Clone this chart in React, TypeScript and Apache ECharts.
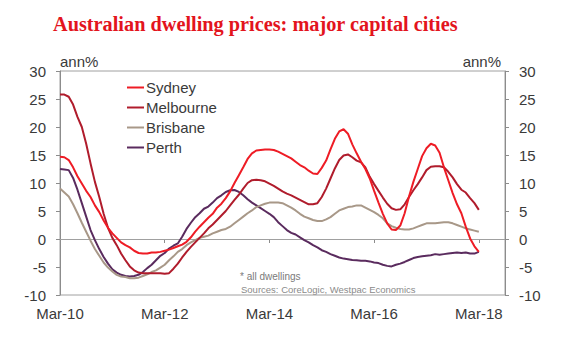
import React, { useEffect, useRef } from "react";
import * as echarts from "echarts";

const monthNames = ["Jan", "Feb", "Mar", "Apr", "May", "Jun", "Jul", "Aug", "Sep", "Oct", "Nov", "Dec"];
// Monthly categories Mar-10 .. Sep-18 (axis runs 6 months past the last observation)
const months: string[] = [];
for (let i = 0; i < 103; i++) {
  const mi = (2 + i) % 12;
  const yr = 10 + Math.floor((2 + i) / 12);
  months.push(`${monthNames[mi]}-${yr}`);
}

const sydney = [
  14.7, 14.6, 14.1, 12.8, 11.2, 9.9, 8.6, 7.5, 6.0, 4.8, 3.3, 2.0,
  1.0, 0.2, -0.6, -1.1, -1.5, -2.1, -2.5, -2.6, -2.6, -2.4, -2.4, -2.3,
  -2.1, -1.9, -1.6, -1.3, -1.0, -0.5, 0.3, 1.3, 2.2, 3.0, 3.8, 4.5,
  5.6, 6.3, 7.3, 8.5, 10.0, 11.4, 12.8, 14.3, 15.3, 15.8, 15.9, 16.0,
  16.0, 15.9, 15.6, 15.2, 14.8, 14.4, 13.8, 13.2, 12.8, 12.2, 11.7, 11.6,
  12.7, 14.0, 16.0, 17.9, 19.2, 19.6, 18.8, 16.9, 15.3, 13.8, 12.5, 10.8,
  8.6, 6.5, 4.5, 2.8, 1.7, 1.6, 2.4, 4.6, 7.6, 10.2, 12.5, 14.8,
  16.2, 17.0, 16.7, 15.4, 12.8, 10.5, 8.2, 6.2, 4.6, 2.2, 0.1, -1.3,
  -2.3,
];

const melbourne = [
  25.8, 25.8, 25.4, 24.0, 21.8, 20.0, 17.0, 13.5, 10.2, 7.5, 4.5, 2.0,
  0.2, -1.1, -2.6, -3.8, -4.9, -5.6, -6.0, -6.1, -6.1, -6.1, -6.1, -6.1,
  -6.2, -6.1, -5.3, -4.4, -3.3, -2.3, -1.4, -0.6, 0.2, 1.0, 1.9, 2.6,
  3.4, 4.2, 5.0, 6.0, 7.0, 7.9, 9.0, 10.0, 10.5, 10.6, 10.5, 10.3,
  9.9, 9.5, 9.0, 8.5, 8.1, 7.8, 7.4, 7.0, 6.6, 6.2, 6.2, 6.4,
  7.5, 9.0, 10.8, 12.6, 14.1, 14.9, 15.1, 14.6, 14.0, 13.7, 12.8, 11.1,
  9.8, 8.6, 7.4, 6.3, 5.5, 5.2, 5.3, 6.2, 7.5, 8.7, 9.8, 11.0,
  12.3, 12.9, 13.0, 13.0, 12.8, 12.0, 11.0, 9.8, 8.8, 8.3, 7.3, 6.4,
  5.2,
];

const brisbane = [
  9.0, 8.3, 7.6, 6.2, 4.6, 2.9, 1.3, -0.3, -1.8, -3.0, -4.2, -5.1,
  -5.8, -6.4, -6.7, -6.8, -7.0, -7.0, -6.9, -6.6, -6.3, -5.9, -5.6, -5.1,
  -4.6, -3.8, -3.1, -2.3, -1.8, -1.1, -0.6, -0.2, 0.2, 0.4, 0.6, 1.0,
  1.3, 1.6, 1.8, 2.2, 2.8, 3.4, 4.0, 4.6, 5.1, 5.7, 6.0, 6.3,
  6.5, 6.5, 6.5, 6.4, 6.0, 5.6, 5.1, 4.5, 4.0, 3.7, 3.4, 3.2,
  3.2, 3.5, 3.9, 4.5, 5.1, 5.4, 5.7, 5.8, 6.0, 6.0, 5.6, 5.2,
  4.8, 4.3, 3.7, 2.8, 2.3, 2.0, 1.8, 1.7, 1.7, 1.9, 2.2, 2.5,
  2.8, 2.8, 2.8, 2.9, 3.0, 3.0, 2.8, 2.5, 2.2, 1.9, 1.7, 1.5,
  1.3,
];

const perth = [
  12.5, 12.4, 12.3, 10.9, 8.8, 6.4, 4.0, 1.6, -0.2, -1.8, -3.2, -4.4,
  -5.4, -6.0, -6.4, -6.6, -6.7, -6.6, -6.4, -5.9, -5.2, -4.6, -3.8, -3.0,
  -2.5, -1.7, -1.2, -0.8, 0.4, 1.8, 2.9, 3.9, 4.6, 5.4, 5.8, 6.5,
  7.3, 7.8, 8.4, 8.7, 8.75, 8.4, 7.8, 7.1, 6.5, 6.0, 5.5, 5.0,
  4.5, 3.9, 3.0, 2.3, 1.6, 1.1, 0.8, 0.3, -0.2, -0.6, -1.1, -1.5,
  -2.0, -2.3, -2.7, -3.0, -3.3, -3.5, -3.6, -3.75, -3.8, -3.9, -3.9, -4.0,
  -4.2, -4.3, -4.6, -4.8, -4.9, -4.6, -4.4, -4.1, -3.75, -3.4, -3.2, -3.1,
  -3.0, -2.9, -2.7, -2.8, -2.7, -2.6, -2.5, -2.4, -2.5, -2.4, -2.6, -2.6,
  -2.3,
];

const seriesNames = ["Sydney", "Melbourne", "Brisbane", "Perth"];
const seriesColors = ["#ee1c25", "#b01c2c", "#a89888", "#5a2b5e"];
const yTicks = { min: -10, max: 30, interval: 5 };

const TEXT = "#3a3a3a";
const AXIS = "#8c8c8c";
const FONT = "'Liberation Sans', Arial, sans-serif";

export default function App() {
  const ref = useRef<HTMLDivElement>(null);
  useEffect(() => {
    if (!ref.current) return;
    const chart = echarts.init(ref.current, undefined, { renderer: "svg" });
    const dataSets = [sydney, melbourne, brisbane, perth];
    const isTick = (i: number) => i % 24 === 0;
    const yAxisBase = {
      type: "value",
      min: yTicks.min,
      max: yTicks.max,
      interval: yTicks.interval,
      splitLine: { show: false },
      axisLine: { show: true, lineStyle: { color: AXIS, width: 1 } },
      axisTick: { show: true, length: 4, lineStyle: { color: AXIS } },
      axisLabel: { color: TEXT, fontSize: 15, fontFamily: FONT, margin: 14 },
      name: "ann%",
      nameLocation: "end",
      nameGap: 2,
    };
    chart.setOption({
      animation: false,
      title: {
        text: "Australian dwelling prices: major capital cities",
        left: 48,
        top: 9,
        textStyle: {
          color: "#e3141d",
          fontSize: 20.3,
          fontWeight: "bold",
          fontFamily: "'Liberation Serif', 'Times New Roman', serif",
        },
      },
      grid: {
        left: 60,
        right: 75,
        top: 71,
        bottom: 57,
        show: true,
        borderColor: "#a0a0a0",
        borderWidth: 1,
        backgroundColor: "transparent",
      },
      legend: {
        orient: "vertical",
        left: 127,
        top: 80,
        padding: 0,
        itemWidth: 17,
        itemHeight: 2,
        itemGap: 5,
        icon: "rect",
        data: seriesNames,
        textStyle: { color: TEXT, fontSize: 15, fontFamily: FONT, padding: [0, 0, 0, -3] },
      },
      xAxis: {
        type: "category",
        data: months,
        boundaryGap: false,
        axisLine: { show: true, lineStyle: { color: AXIS, width: 1 } },
        axisTick: { show: true, length: 4, interval: (i: number) => isTick(i), lineStyle: { color: AXIS } },
        axisLabel: {
          color: TEXT,
          fontSize: 15,
          fontFamily: FONT,
          margin: 11,
          interval: (i: number) => isTick(i),
        },
        splitLine: { show: false },
      },
      yAxis: [
        {
          ...yAxisBase,
          position: "left",
          nameTextStyle: { color: TEXT, fontSize: 15, fontFamily: FONT, align: "left" },
        },
        {
          ...yAxisBase,
          position: "right",
          nameTextStyle: { color: TEXT, fontSize: 15, fontFamily: FONT, align: "right", padding: [0, 4, 0, 0] },
        },
      ],
      graphic: [
        {
          type: "text",
          left: 240,
          top: 271,
          style: { text: "* all dwellings", fill: "#7a7a7a", fontSize: 10, fontFamily: FONT },
        },
        {
          type: "text",
          left: 241,
          top: 284,
          style: { text: "Sources: CoreLogic, Westpac Economics", fill: "#8a8a8a", fontSize: 9.5, fontFamily: FONT },
        },
      ],
      series: seriesNames.map((name, k) => ({
        name,
        type: "line",
        data: dataSets[k],
        symbol: "none",
        smooth: false,
        z: 10 - k,
        lineStyle: { color: seriesColors[k], width: 2 },
        itemStyle: { color: seriesColors[k] },
        ...(k === 3
          ? {
              markLine: {
                silent: true,
                symbol: "none",
                label: { show: false },
                lineStyle: { color: "#a0a0a0", width: 1, type: "solid" },
                data: [{ yAxis: 0 }],
                z: 1,
              },
            }
          : {}),
      })),
    });
    return () => chart.dispose();
  }, []);
  return <div ref={ref} style={{ width: 580, height: 352, position: "absolute", left: 0, top: 0 }} />;
}
